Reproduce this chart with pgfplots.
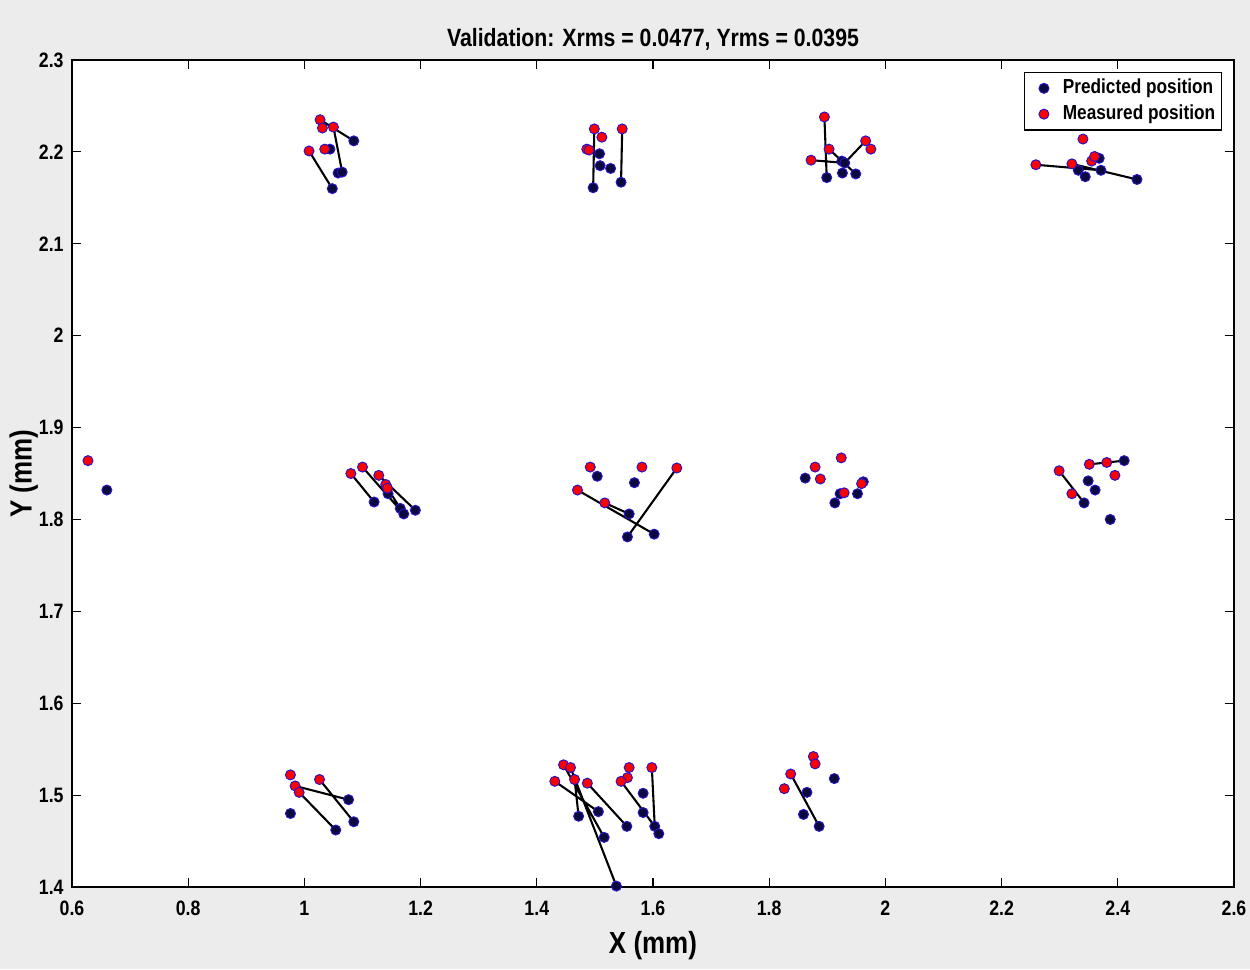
\documentclass[border=0pt]{standalone}
\usepackage{pgfplots}
\pgfplotsset{compat=1.18}
\usepackage{fontspec}
\setmainfont{Liberation Sans}[FakeStretch=0.85]
\definecolor{bgc}{RGB}{236,236,236}
\definecolor{navyf}{RGB}{10,10,60}
\definecolor{edgec}{RGB}{40,20,200}
\begin{document}
\begin{tikzpicture}
\fill[bgc] (-25.92pt,-29.52pt) rectangle (424.08pt,319.32pt);
\begin{axis}[
  at={(0,0)}, anchor=south west,
  scale only axis, width=418.32pt, height=297.72pt,
  xmin=0.6, xmax=2.6, ymin=1.4, ymax=2.3,
  xtick={0.6,0.8,...,2.61}, ytick={1.4,1.5,...,2.31},
  tick align=inside, major tick length=3.2pt,
  tick style={black, line width=0.4pt},
  axis line style={black, line width=0.4pt},
  axis background/.style={fill=white},
  /pgf/number format/assume math mode=true,
  ticklabel style={font=\fontsize{7.5}{8}\selectfont\bfseries},
  xticklabel style={yshift=-1.5pt},
  yticklabel style={xshift=0.5pt},
  title={\fontsize{9}{10}\selectfont\bfseries Validation: Xrms = 0.0477, Yrms = 0.0395},
  title style={at={(axis description cs:0.5,1)}, anchor=center, yshift=1.5pt},
  xlabel={\fontsize{11}{12}\selectfont\bfseries X (mm)},
  ylabel={\fontsize{11}{12}\selectfont\bfseries Y (mm)},
  xlabel style={at={(axis description cs:0.5,0)}, anchor=center, yshift=-21.2pt},
  ylabel style={at={(axis description cs:0,0.5)}, anchor=center, yshift=17.4pt},
  clip=false,
  unbounded coords=jump,
  legend style={at={(1,1)}, anchor=north east, xshift=-4.3pt, yshift=-4.3pt,
    font=\fontsize{7.3}{8}\selectfont\bfseries, draw=black, line width=0.4pt,
    inner xsep=0.3pt, inner ysep=0.3pt, row sep=-1.5pt, column sep=3pt, cells={anchor=west}},
  legend image code/.code={\path (-6.6pt,0pt) (0pt,0pt); \draw[mark repeat=1,#1] plot coordinates {(0pt,0pt)};},
  legend image post style={mark size=1.8pt},
  legend cell align=left,
]
% segments
\addplot[black, line width=0.75pt, forget plot] coordinates {
(1.027,2.235) (1.085,2.212) (nan,nan)
(1.050,2.227) (1.065,2.178) (nan,nan)
(1.008,2.201) (1.048,2.160) (nan,nan)
(1.035,2.203) (1.044,2.203) (nan,nan)
(1.499,2.225) (1.497,2.161) (nan,nan)
(1.547,2.225) (1.545,2.167) (nan,nan)
(1.895,2.238) (1.899,2.172) (nan,nan)
(1.903,2.203) (1.949,2.176) (nan,nan)
(1.872,2.191) (1.930,2.188) (nan,nan)
(1.966,2.212) (1.930,2.188) (nan,nan)
(2.259,2.186) (2.371,2.180) (nan,nan)
(2.321,2.187) (2.433,2.170) (nan,nan)
(1.080,1.850) (1.120,1.819) (nan,nan)
(1.100,1.857) (1.171,1.806) (nan,nan)
(1.128,1.848) (1.191,1.810) (nan,nan)
(1.140,1.838) (1.144,1.828) (nan,nan)
(1.143,1.834) (1.165,1.812) (nan,nan)
(1.470,1.832) (1.602,1.784) (nan,nan)
(1.517,1.818) (1.559,1.806) (nan,nan)
(1.641,1.856) (1.556,1.781) (nan,nan)
(2.299,1.853) (2.342,1.818) (nan,nan)
(2.351,1.860) (2.411,1.864) (nan,nan)
(0.984,1.510) (1.076,1.495) (nan,nan)
(0.991,1.503) (1.054,1.462) (nan,nan)
(1.026,1.517) (1.085,1.471) (nan,nan)
(1.431,1.515) (1.506,1.482) (nan,nan)
(1.446,1.533) (1.516,1.454) (nan,nan)
(1.458,1.530) (1.537,1.401) (nan,nan)
(1.465,1.517) (1.472,1.477) (nan,nan)
(1.487,1.513) (1.555,1.466) (nan,nan)
(1.545,1.515) (1.603,1.466) (nan,nan)
(1.598,1.530) (1.603,1.466) (nan,nan)
(1.837,1.523) (1.886,1.466)
};
% predicted
\addplot[only marks, mark=*, mark size=1.8pt, mark options={fill=navyf, draw=edgec, line width=0.35pt}] coordinates {
(1.085,2.212) (1.044,2.203) (1.058,2.177) (1.065,2.178) (1.048,2.160)
(1.508,2.198) (1.509,2.185) (1.527,2.182) (1.497,2.161) (1.545,2.167)
(1.925,2.190) (1.930,2.188) (1.899,2.172) (1.926,2.177) (1.949,2.176)
(2.368,2.193) (2.332,2.180) (2.344,2.173) (2.371,2.180) (2.433,2.170)
(0.660,1.832)
(1.120,1.819) (1.144,1.828) (1.165,1.812) (1.171,1.806) (1.191,1.810)
(1.504,1.847) (1.568,1.840) (1.559,1.806) (1.556,1.781) (1.602,1.784)
(1.862,1.845) (1.922,1.828) (1.913,1.818) (1.952,1.828) (1.962,1.841)
(2.342,1.818) (2.349,1.842) (2.361,1.832) (2.411,1.864) (2.387,1.800)
(0.976,1.480) (1.076,1.495) (1.085,1.471) (1.054,1.462)
(1.472,1.477) (1.506,1.482) (1.516,1.454) (1.555,1.466) (1.537,1.401)
(1.583,1.502) (1.583,1.481) (1.603,1.466) (1.610,1.458)
(1.912,1.518) (1.865,1.503) (1.859,1.479) (1.886,1.466)
};
\addlegendentry{Predicted position}
% measured
\addplot[only marks, mark=*, mark size=1.8pt, mark options={fill=red, draw=edgec, line width=0.35pt}] coordinates {
(1.027,2.235) (1.031,2.226) (1.050,2.227) (1.008,2.201) (1.035,2.203)
(1.499,2.225) (1.512,2.216) (1.547,2.225) (1.486,2.203) (1.490,2.202)
(1.895,2.238) (1.903,2.203) (1.872,2.191) (1.966,2.212) (1.975,2.203)
(2.259,2.186) (2.321,2.187) (2.340,2.214) (2.355,2.190) (2.360,2.195)
(0.6275,1.864)
(1.080,1.850) (1.100,1.857) (1.128,1.848) (1.140,1.838) (1.143,1.834)
(1.492,1.857) (1.581,1.857) (1.470,1.832) (1.517,1.818) (1.641,1.856)
(1.924,1.867) (1.879,1.857) (1.888,1.844) (1.929,1.829) (1.959,1.839)
(2.299,1.853) (2.321,1.828) (2.351,1.860) (2.381,1.862) (2.395,1.848)
(0.976,1.522) (0.984,1.510) (0.991,1.503) (1.026,1.517)
(1.446,1.533) (1.458,1.530) (1.431,1.515) (1.465,1.517) (1.487,1.513)
(1.559,1.530) (1.556,1.519) (1.545,1.515) (1.598,1.530)
(1.876,1.542) (1.879,1.534) (1.837,1.523) (1.826,1.507)
};
\addlegendentry{Measured position}
\end{axis}
\pgfresetboundingbox
\path (-25.92pt,-29.52pt) rectangle (424.08pt,319.32pt);
\end{tikzpicture}
\end{document}
